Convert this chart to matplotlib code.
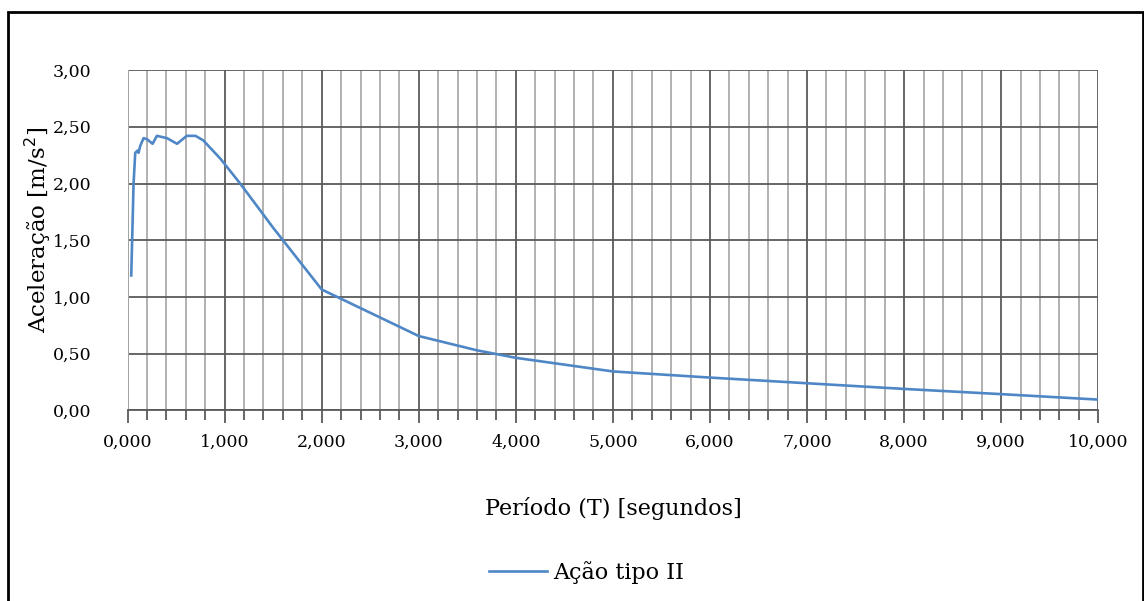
import matplotlib
matplotlib.use('Agg')
import matplotlib.pyplot as plt
from matplotlib.ticker import MultipleLocator, FuncFormatter
from matplotlib.patches import Rectangle

# Espectro de resposta - Ação tipo II
periodo = [0.038, 0.062, 0.079, 0.103, 0.113, 0.13, 0.165, 0.20, 0.258, 0.302,
           0.405, 0.51, 0.61, 0.70, 0.78, 0.955, 1.16, 1.5, 2.0, 2.6, 3.0,
           3.6, 4.0, 5.0, 6.0, 7.0, 8.0, 9.0, 10.0]
aceleracao = [1.19, 2.00, 2.27, 2.29, 2.27, 2.33, 2.40, 2.39, 2.35, 2.42,
              2.40, 2.35, 2.42, 2.42, 2.38, 2.22, 2.00, 1.61, 1.066, 0.82, 0.656,
              0.53, 0.464, 0.344, 0.29, 0.24, 0.19, 0.144, 0.096]

plt.rcParams['font.family'] = 'DejaVu Serif'

fig = plt.figure(figsize=(11.44, 6.01), dpi=100)
ax = fig.add_axes([0.1115, 0.317, 0.8485, 0.5665])

# moldura exterior
fig.patches.append(Rectangle((8 / 1144, -0.05), 1135 / 1144, 1.05 - 12 / 601,
                             transform=fig.transFigure, fill=False,
                             edgecolor='black', linewidth=2))

ax.plot(periodo, aceleracao, color='#4F87C6', linewidth=1.9, label='Ação tipo II', zorder=3)

ax.set_xlim(0, 10)
ax.set_ylim(0, 3)
ax.xaxis.set_major_locator(MultipleLocator(1))
ax.xaxis.set_minor_locator(MultipleLocator(0.2))
ax.yaxis.set_major_locator(MultipleLocator(0.5))
ax.xaxis.set_major_formatter(FuncFormatter(lambda v, p: f'{v:.3f}'.replace('.', ',')))
ax.yaxis.set_major_formatter(FuncFormatter(lambda v, p: f'{v:.2f}'.replace('.', ',')))

ax.grid(which='major', axis='both', color='#5a5a5a', linewidth=1.3)
ax.grid(which='minor', axis='x', color='#ababab', linewidth=1.3)
ax.axvline(0, color='#ababab', linewidth=1.3, zorder=1.5)
ax.set_axisbelow(True)

for s in ['left', 'top', 'right']:
    ax.spines[s].set_visible(False)
ax.spines['bottom'].set_color('#5a5a5a')
ax.spines['bottom'].set_linewidth(1.3)

ax.tick_params(axis='x', which='major', direction='out', length=9, width=1.3,
               color='#5a5a5a', labelsize=12.5, pad=8)
ax.tick_params(axis='x', which='minor', direction='out', length=7, width=1.3, color='#5a5a5a')
ax.tick_params(axis='y', length=0, labelsize=12.5, pad=26)

ax.set_xlabel('Período (T) [segundos]', fontsize=16, labelpad=33)
ax.set_ylabel('Aceleração [m/s$^2$]', fontsize=16.5)
ax.yaxis.set_label_coords(-0.077, 0.53)

fig.legend(loc='center', bbox_to_anchor=(0.513, 0.047), frameon=False,
           fontsize=16, handlelength=2.6, handletextpad=0.3)

fig.savefig('out.png', dpi=100)
